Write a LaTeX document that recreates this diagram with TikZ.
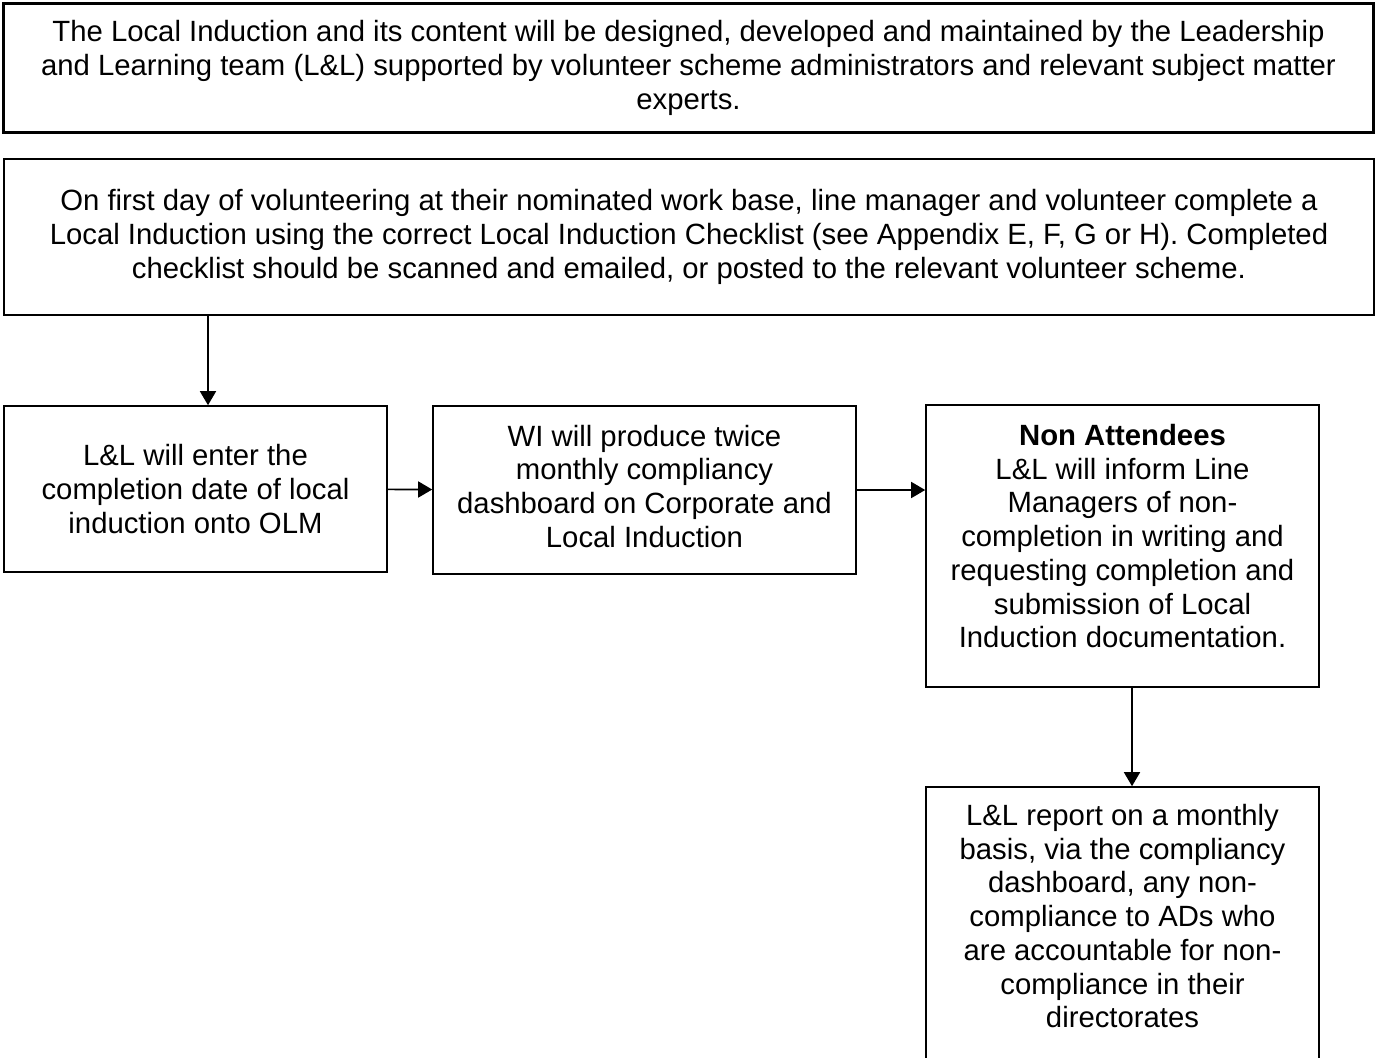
\documentclass[tikz,border=0pt]{standalone}
\usepackage{fontspec}
\setmainfont{Liberation Sans}
\usetikzlibrary{arrows.meta}
\begin{document}
\begin{tikzpicture}[x=1pt, y=-1pt]
      \tikzstyle{process} = [rectangle, draw=black, line width=1.6pt, align=center, inner sep=0pt, font=\fontsize{29.3}{33.7}\selectfont]
      \tikzstyle{flow} = [line width=1.6pt, -{Triangle[length=14pt, width=16pt]}]

      \useasboundingbox (0,0) rectangle (1378,1057);

      \node (intro) [process, line width=3pt, minimum width=1370pt, minimum height=128pt] at (688.5,68) {The Local Induction and its content will be designed, developed and maintained by the Leadership\\and Learning team (L\&L) supported by volunteer scheme administrators and relevant subject matter\\experts.};
      \node (firstday) [process, minimum width=1370pt, minimum height=156pt] at (689,237) {On first day of volunteering at their nominated work base, line manager and volunteer complete a\\Local Induction using the correct Local Induction Checklist (see Appendix E, F, G or H). Completed\\checklist should be scanned and emailed, or posted to the relevant volunteer scheme.};
      \node (olm) [process, minimum width=383pt, minimum height=166pt] at (195.5,489) {L\&L will enter the\\completion date of local\\induction onto OLM};
      \node (dash) [process, minimum width=423pt, minimum height=168pt, text depth=8pt] at (644.5,490) {WI will produce twice\\monthly compliancy\\dashboard on Corporate and\\Local Induction};
      \node (nonatt) [process, minimum width=393pt, minimum height=282pt, text depth=20pt] at (1122.5,546) {\textbf{Non Attendees}\\L\&L will inform Line\\Managers of non-\\completion in writing and\\requesting completion and\\submission of Local\\Induction documentation.};
      \node (report) [process, minimum width=393pt, minimum height=274pt, text depth=16pt] at (1122.5,924) {L\&L report on a monthly\\basis, via the compliancy\\dashboard, any non-\\compliance to ADs who\\are accountable for non-\\compliance in their\\directorates};

      \draw [flow] ([xshift=12.5pt]olm.north |- firstday.south) -- ([xshift=12.5pt]olm.north);
      \draw [flow] (olm) -- (dash);
      \draw [flow] (dash.east) -- (dash.east -| nonatt.west);
      \draw [flow] ([xshift=9.5pt]nonatt.south) -- ([xshift=9.5pt]report.north);
    \end{tikzpicture}
\end{document}
